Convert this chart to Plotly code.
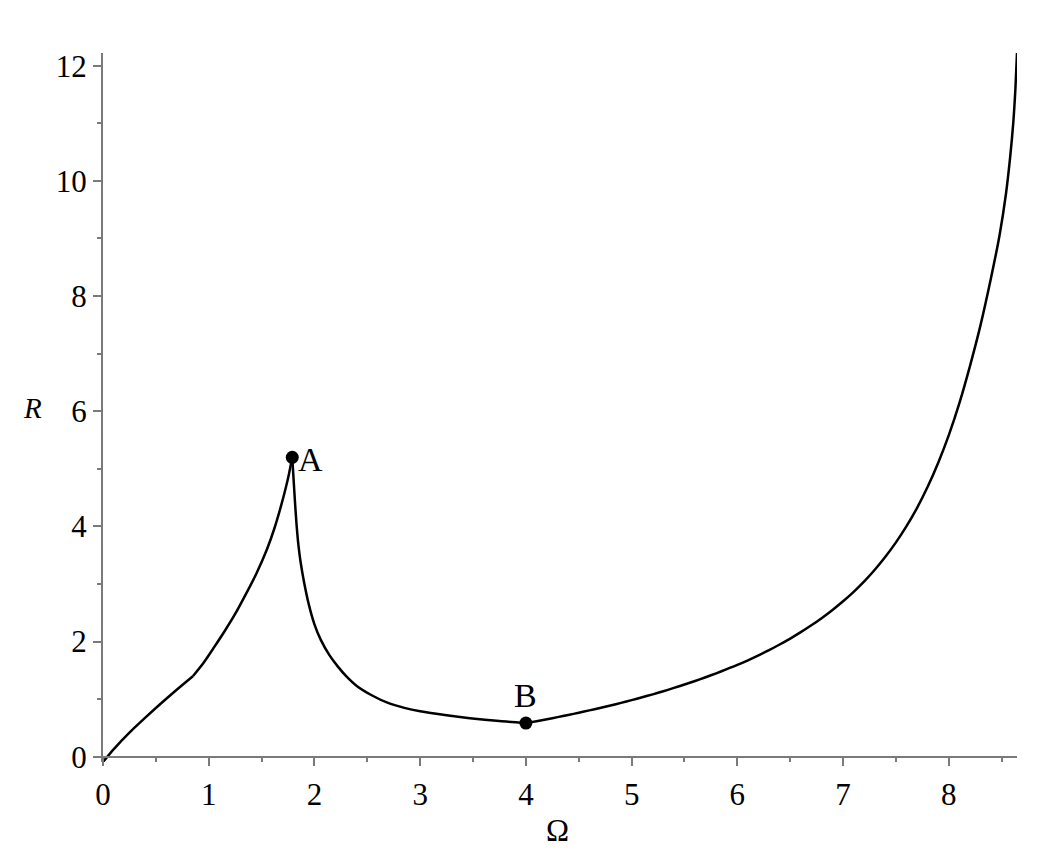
import plotly.graph_objects as go

# Curve data
omega = [0.0, 0.1, 0.25, 0.4, 0.55, 0.7, 0.85,
         0.95, 1.05, 1.15, 1.25, 1.35, 1.45, 1.55, 1.62, 1.68, 1.73, 1.76, 1.79,
         1.80, 1.815, 1.83, 1.85, 1.87, 1.90, 1.95, 2.0, 2.06, 2.14, 2.22, 2.30, 2.40, 2.55, 2.69, 2.85, 3.0,
         3.25, 3.47, 3.75, 4.0,
         4.1, 4.2, 4.3, 4.4, 4.5, 4.6, 4.7, 4.8, 4.9, 5.0,
         5.1, 5.2, 5.3, 5.4, 5.5, 5.6, 5.7, 5.8, 5.9, 6.0,
         6.1, 6.2, 6.3, 6.4, 6.5, 6.6, 6.7, 6.8, 6.9, 7.0,
         7.1, 7.2, 7.3, 7.4, 7.5, 7.6, 7.7, 7.8, 7.9, 8.0,
         8.1, 8.2, 8.3, 8.4, 8.48, 8.54, 8.58, 8.61, 8.63, 8.645]
R = [-0.09, 0.13, 0.42, 0.68, 0.93, 1.17, 1.40,
     1.63, 1.90, 2.18, 2.48, 2.82, 3.18, 3.60, 3.96, 4.33, 4.68, 4.92, 5.2,
     4.9, 4.45, 4.05, 3.65, 3.37, 3.05, 2.62, 2.3, 2.03, 1.77, 1.57, 1.4, 1.23, 1.06, 0.94, 0.85, 0.79,
     0.72, 0.67, 0.62, 0.585,
     0.618, 0.653, 0.689, 0.726, 0.765, 0.806, 0.848, 0.891, 0.937, 0.984,
     1.034, 1.085, 1.139, 1.196, 1.255, 1.317, 1.382, 1.450, 1.521, 1.595,
     1.675, 1.761, 1.852, 1.950, 2.053, 2.164, 2.283, 2.411, 2.550, 2.700,
     2.864, 3.046, 3.248, 3.473, 3.723, 4.005, 4.323, 4.688, 5.105, 5.584,
     6.14, 6.784, 7.495, 8.323, 9.057, 9.767, 10.407, 11.017, 11.6, 12.22]

# indices of the sharp corners of the curve (kink, point A, point B)
corner_idx = [0, 6, 18, 39, len(omega) - 1]

point_names = ["A", "B"]
point_omega = [1.79, 4.0]
point_R = [5.2, 0.585]

x_ticks = [0, 1, 2, 3, 4, 5, 6, 7, 8]
y_ticks = [0, 2, 4, 6, 8, 10, 12]

X_RANGE = [0, 8.645]
Y_RANGE = [-0.09, 12.22]

FONT = "Liberation Serif, Times New Roman, serif"
AXIS_COLOR = "#7a7a7a"

fig = go.Figure()
for a, b in zip(corner_idx[:-1], corner_idx[1:]):
    fig.add_trace(go.Scatter(x=omega[a:b + 1], y=R[a:b + 1], mode="lines",
                             line=dict(color="black", width=2.5, shape="spline", smoothing=0.7),
                             showlegend=False))
fig.add_trace(go.Scatter(x=point_omega, y=point_R, mode="markers",
                         marker=dict(color="black", size=13), showlegend=False, cliponaxis=False))

# point labels
fig.add_annotation(x=point_omega[0], y=point_R[0], text=point_names[0], showarrow=False,
                   xanchor="left", yanchor="middle", xshift=4, yshift=-2,
                   font=dict(family=FONT, size=34, color="black"))
fig.add_annotation(x=point_omega[1], y=point_R[1], text=point_names[1], showarrow=False,
                   xanchor="center", yanchor="bottom", yshift=7,
                   font=dict(family=FONT, size=34, color="black"))

# axis titles
fig.add_annotation(xref="paper", yref="paper", x=0.4975, y=-0.096, text="Ω", showarrow=False,
                   xanchor="center", yanchor="middle", font=dict(family=FONT, size=31, color="black"))
fig.add_annotation(xref="paper", yref="paper", x=-0.0766, y=0.499, text="<i>R</i>", showarrow=False,
                   xanchor="center", yanchor="middle", font=dict(family=FONT, size=29, color="black"))

y0_pos = (0 - Y_RANGE[0]) / (Y_RANGE[1] - Y_RANGE[0])

fig.update_layout(
    width=1059, height=861,
    margin=dict(l=95, r=50, t=45, b=107),
    paper_bgcolor="white", plot_bgcolor="white",
    xaxis=dict(range=X_RANGE, tickvals=x_ticks, showgrid=False, zeroline=False,
               showline=True, linecolor=AXIS_COLOR, linewidth=2,
               ticks="outside", ticklen=8, tickwidth=1.5, tickcolor=AXIS_COLOR,
               anchor="free", position=y0_pos, ticklabelstandoff=2,
               minor=dict(dtick=0.5, ticks="outside", ticklen=4, tickwidth=1.5,
                          tickcolor=AXIS_COLOR, showgrid=False),
               tickfont=dict(family=FONT, size=31, color="black")),
    yaxis=dict(range=Y_RANGE, tickvals=y_ticks, showgrid=False, zeroline=False,
               showline=True, linecolor=AXIS_COLOR, linewidth=2,
               ticks="outside", ticklen=8, tickwidth=1.5, tickcolor=AXIS_COLOR,
               domain=[0, 1],
               minor=dict(dtick=1, ticks="outside", ticklen=4, tickwidth=1.5,
                          tickcolor=AXIS_COLOR, showgrid=False),
               tickfont=dict(family=FONT, size=31, color="black")),
)

fig.write_html("out.html")
